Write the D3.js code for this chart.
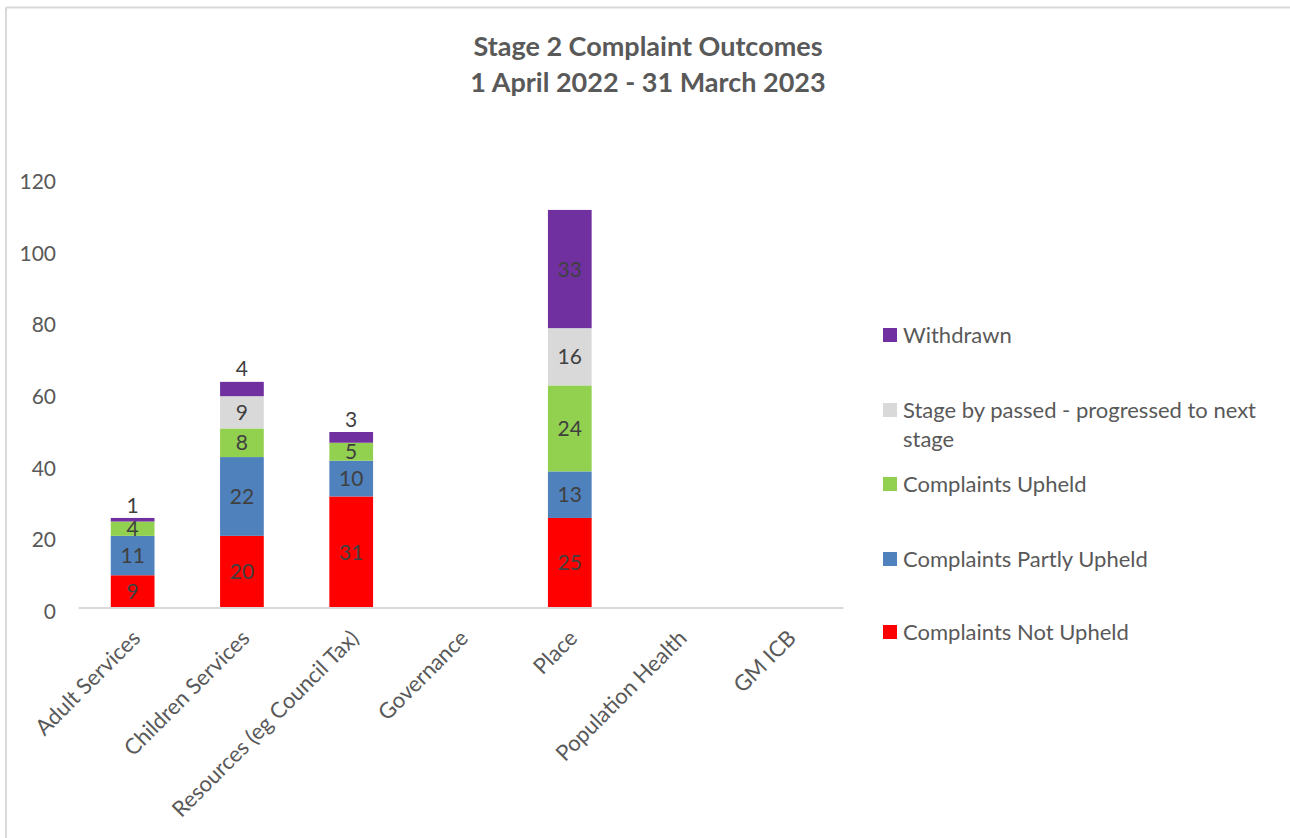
<!DOCTYPE html>
<html>
<head>
<meta charset="utf-8">
<script src="https://cdn.jsdelivr.net/npm/d3@7"></script>
<style>
  html, body { margin: 0; padding: 0; background: #fff; }
  svg { display: block; font-family: Lato, "Open Sans", sans-serif; }
</style>
</head>
<body>
<svg id="chart" width="1290" height="838"></svg>
<script>
// Categories along the x axis
const categories = ["Adult Services", "Children Services", "Resources (eg Council Tax)",
  "Governance", "Place", "Population Health", "GM ICB"];

// Series, bottom of the stack first
const seriesNames = ["Complaints Not Upheld", "Complaints Partly Upheld", "Complaints Upheld",
  "Stage by passed - progressed to next stage", "Withdrawn"];
const notUpheld    = [9, 20, 31, 0, 25, 0, 0];
const partlyUpheld = [11, 22, 10, 0, 13, 0, 0];
const upheld       = [4, 8, 5, 0, 24, 0, 0];
const bypassed     = [0, 9, 0, 0, 16, 0, 0];
const withdrawn    = [1, 4, 3, 0, 33, 0, 0];
const seriesColors = ["#FF0000", "#4F81BD", "#92D050", "#D9D9D9", "#7030A0"];

const yTicks = [0, 20, 40, 60, 80, 100, 120];
const titleLines = ["Stage 2 Complaint Outcomes", "1 April 2022 - 31 March 2023"];

const seriesValues = [notUpheld, partlyUpheld, upheld, bypassed, withdrawn];
const rows = categories.map((c, i) => {
  const r = { category: c };
  seriesNames.forEach((s, k) => r[s] = seriesValues[k][i]);
  return r;
});
const stacked = d3.stack().keys(seriesNames)(rows);

const svg = d3.select("#chart");
const textColor = "#595959";
const labelColor = "#404040";

// chart area frame
svg.append("line").attr("x1", 6).attr("x2", 1290).attr("y1", 7.5).attr("y2", 7.5)
  .attr("stroke", "#d9d9d9").attr("stroke-width", 2);
svg.append("line").attr("x1", 6).attr("x2", 6).attr("y1", 7.5).attr("y2", 838)
  .attr("stroke", "#d9d9d9").attr("stroke-width", 2);

// title
svg.append("text")
  .attr("x", 648).attr("y", 56)
  .attr("text-anchor", "middle")
  .attr("fill", textColor)
  .attr("font-size", 27).attr("font-weight", "bold")
  .selectAll("tspan").data(titleLines).join("tspan")
  .attr("x", 648).attr("dy", (d, i) => i === 0 ? 0 : 36)
  .text(d => d);

const x = d3.scaleBand().domain(categories).range([78, 843]).padding(0);
const y = d3.scaleLinear().domain([0, 120]).range([607.5, 177.7]);
const barW = x.bandwidth() * 0.4;

// y axis tick labels (no axis line)
const yAxis = svg.append("g").attr("transform", "translate(62,0)")
  .call(d3.axisLeft(y).tickValues(yTicks).tickSize(0).tickPadding(6));
yAxis.select(".domain").remove();
yAxis.selectAll("text").attr("fill", textColor).attr("font-size", 21)
  .attr("font-family", "Lato, 'Open Sans', sans-serif").attr("dy", "0.52em");

// stacked bars
const layers = svg.append("g").selectAll("g").data(stacked).join("g")
  .attr("fill", (d, i) => seriesColors[i]);
layers.selectAll("rect").data(d => d).join("rect")
  .attr("x", d => x(d.data.category) + (x.bandwidth() - barW) / 2)
  .attr("width", barW)
  .attr("y", d => y(d[1]))
  .attr("height", d => y(d[0]) - y(d[1]));

// category axis line and rotated labels
const xAxis = svg.append("g").attr("transform", "translate(0,607.5)")
  .call(d3.axisBottom(x).tickSize(0).tickPadding(0));
xAxis.select(".domain").attr("stroke", "#d9d9d9").attr("stroke-width", 2);
xAxis.selectAll("text")
  .attr("fill", textColor).attr("font-size", 22)
  .attr("font-family", "Lato, 'Open Sans', sans-serif")
  .attr("text-anchor", "end")
  .attr("dy", 0)
  .attr("transform", "translate(9,32) rotate(-45)");

// data labels; the thin top segments carry their label above the bar
const topKey = seriesNames[seriesNames.length - 1];
stacked.forEach(layer => {
  layer.forEach(d => {
    const v = d[1] - d[0];
    if (!v) return;
    const cx = x(d.data.category) + x.bandwidth() / 2;
    const above = layer.key === topKey && (y(d[0]) - y(d[1])) < 20;
    svg.append("text")
      .attr("x", cx)
      .attr("y", above ? y(d[1]) - 13 : (y(d[0]) + y(d[1])) / 2)
      .attr("dy", "0.36em")
      .attr("text-anchor", "middle")
      .attr("fill", labelColor)
      .attr("font-size", 21)
      .text(v);
  });
});

// legend, top series first
const legendOrder = seriesNames.map((s, i) => ({ name: s, color: seriesColors[i] })).reverse();
const legendY = [335, 410, 484, 559, 632];
const legendLines = {
  "Stage by passed - progressed to next stage": ["Stage by passed - progressed to next", "stage"]
};
const lg = svg.append("g").selectAll("g").data(legendOrder).join("g")
  .attr("transform", (d, i) => `translate(883,${legendY[i]})`);
lg.append("rect").attr("x", 0).attr("y", -7).attr("width", 14).attr("height", 14)
  .attr("fill", d => d.color);
lg.append("text").attr("x", 20).attr("y", 0)
  .attr("fill", textColor).attr("font-size", 22)
  .selectAll("tspan").data(d => legendLines[d.name] || [d.name]).join("tspan")
  .attr("x", 20).attr("dy", (t, i) => i === 0 ? "0.36em" : 29)
  .text(t => t);
</script>
</body>
</html>
